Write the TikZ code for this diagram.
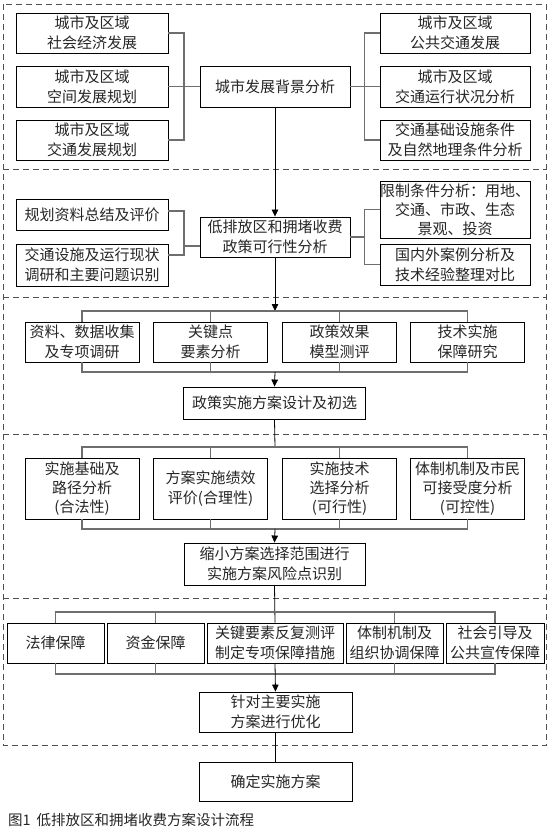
\documentclass[tikz,border=0pt]{standalone}
\usepackage{fontspec}
\setmainfont{Noto Sans CJK SC}
\usetikzlibrary{arrows.meta}
\begin{document}
\begin{tikzpicture}[x=1pt,y=-1pt,
  box/.style={draw=black, line width=0.9pt, inner sep=0pt, align=center, font=\fontsize{15}{20}\selectfont, text=black!85},
  box3/.style={box, font=\fontsize{15}{19}\selectfont},
  conn/.style={draw={rgb,255:red,110;green,110;blue,110}, line width=1.3pt},
  flow/.style={draw=black, line width=0.8pt},
  arr/.style={flow, -{Triangle[length=7pt,width=6.5pt]}},
  sect/.style={draw={rgb,255:red,80;green,80;blue,80}, line width=0.8pt, dash pattern=on 6pt off 4pt},
]
\fill[white] (0,0) rectangle (554,835);
\useasboundingbox (0,0) rectangle (554,835);

% section frames
\draw[sect] (3,4) rectangle (546.5,745);
\foreach \yy in {169,297,434,598} \draw[sect] (3,\yy) -- (546.5,\yy);

% ---------- section 1
\node[box, minimum width=152pt, minimum height=40pt] (L1) at (92,33) {城市及区域\\社会经济发展};
\node[box, minimum width=152pt, minimum height=41pt] (L2) at (92,86.5) {城市及区域\\空间发展规划};
\node[box, minimum width=152pt, minimum height=40pt] (L3) at (92,140) {城市及区域\\交通发展规划};
\node[box, minimum width=150pt, minimum height=41pt] (C1) at (275,86.5) {城市发展背景分析};
\node[box, minimum width=150pt, minimum height=40pt] (R1) at (455,33) {城市及区域\\公共交通发展};
\node[box, minimum width=150pt, minimum height=41pt] (R2) at (455,86.5) {城市及区域\\交通运行状况分析};
\node[box, minimum width=150pt, minimum height=40pt] (R3) at (455,140) {交通基础设施条件\\及自然地理条件分析};

\draw[conn] (L1.east) -- ++(15.5,0) |- (L3.east);
\draw[conn] (L2.east) -- (C1.west);
\draw[conn] (R1.west) -- ++(-15,0) |- (R3.west);
\draw[conn] (C1.east) -- (R2.west);

% ---------- section 2
\node[box, minimum width=152pt, minimum height=31pt] (A) at (92,214.5) {规划资料总结及评价};
\node[box, minimum width=152pt, minimum height=42pt] (B) at (92,265) {交通设施及运行现状\\调研和主要问题识别};
\node[box, minimum width=150pt, minimum height=40pt] (C2) at (275,237) {低排放区和拥堵收费\\政策可行性分析};
\node[box3, minimum width=150pt, minimum height=57pt] (Rc) at (455,209.5) {限制条件分析：用地、\\交通、市政、生态\\景观、投资};
\node[box, minimum width=150pt, minimum height=41pt] (Rd) at (455,264.5) {国内外案例分析及\\技术经验整理对比};

\draw[arr] (C1.south) -- (C2.north);
\draw[conn] ([yshift=3.5pt]A.east) -- ++(15.5,0) |- ([yshift=10pt]B.east);
\draw[conn] ([yshift=-9pt]C2.west) -- ++(-16.5,0);
\draw[conn] (Rc.west) -- ++(-15,0) |- (Rd.west);
\draw[conn] (C2.east) -- ++(15,0);

% ---------- section 3
\node[box, minimum width=114pt, minimum height=40pt] (P1) at (82,342) {资料、数据收集\\及专项调研};
\node[box, minimum width=114pt, minimum height=40pt] (P2) at (210.5,342) {关键点\\要素分析};
\node[box, minimum width=114pt, minimum height=40pt] (P3) at (339.5,342) {政策效果\\模型测评};
\node[box, minimum width=114pt, minimum height=40pt] (P4) at (467.5,342) {技术实施\\保障研究};
\node[box, minimum width=182pt, minimum height=32pt] (D) at (274.5,403) {政策实施方案设计及初选};

\coordinate (b3t) at (275,311);
\coordinate (b3b) at (275,372);
\draw[arr] (C2.south) -- (b3t);
\draw[conn] (P1.north) |- (b3t) -| (P4.north);
\draw[conn] (P2.north) -- (P2.north |- b3t);
\draw[conn] (P3.north) -- (P3.north |- b3t);
\draw[conn] (P1.south) |- (b3b) -| (P4.south);
\draw[conn] (P2.south) -- (P2.south |- b3b);
\draw[conn] (P3.south) -- (P3.south |- b3b);
\draw[arr] (b3b) -- (D.north);

% ---------- section 4
\node[box3, minimum width=114pt, minimum height=61pt] (Q1) at (82,488.5) {实施基础及\\路径分析\\(合法性)};
\node[box, minimum width=114pt, minimum height=61pt] (Q2) at (210.5,488.5) {方案实施绩效\\评价(合理性)};
\node[box3, minimum width=114pt, minimum height=61pt] (Q3) at (339.5,488.5) {实施技术\\选择分析\\(可行性)};
\node[box3, minimum width=114pt, minimum height=61pt] (Q4) at (467.5,488.5) {体制机制及市民\\可接受度分析\\(可控性)};
\node[box, minimum width=181pt, minimum height=42pt] (E) at (274.5,564) {缩小方案选择范围进行\\实施方案风险点识别};

\coordinate (b4t) at (275,447);
\coordinate (b4b) at (275,529);
\draw[flow] (D.south) -- (b4t);
\draw[conn] (Q1.north) |- (b4t) -| (Q4.north);
\draw[conn] (Q2.north) -- (Q2.north |- b4t);
\draw[conn] (Q3.north) -- (Q3.north |- b4t);
\draw[conn] (Q1.south) |- (b4b) -| (Q4.south);
\draw[conn] (Q2.south) -- (Q2.south |- b4b);
\draw[conn] (Q3.south) -- (Q3.south |- b4b);
\draw[arr] (b4b) -- (E.north);

% ---------- section 5
\node[box, minimum width=97pt, minimum height=40pt] (F1) at (55.5,643) {法律保障};
\node[box, minimum width=97pt, minimum height=40pt] (F2) at (155.5,643) {资金保障};
\node[box, minimum width=136pt, minimum height=40pt] (F3) at (275,643) {关键要素反复测评\\制定专项保障措施};
\node[box, minimum width=97pt, minimum height=40pt] (F4) at (394.5,643) {体制机制及\\组织协调保障};
\node[box, minimum width=98pt, minimum height=40pt] (F5) at (495,643) {社会引导及\\公共宣传保障};
\node[box, minimum width=153pt, minimum height=40pt] (G) at (275.5,712) {针对主要实施\\方案进行优化};
\node[box, minimum width=153pt, minimum height=39pt] (H) at (275.5,781.5) {确定实施方案};

\coordinate (b5t) at (275,612);
\coordinate (b5b) at (275,674);
\draw[flow] (E.south) -- (F3.north);
\draw[conn] (F1.north) |- (b5t) -| (F5.north);
\draw[conn] (F2.north) -- (F2.north |- b5t);
\draw[conn] (F4.north) -- (F4.north |- b5t);
\draw[conn] (F1.south) |- (b5b) -| (F5.south);
\draw[conn] (F2.south) -- (F2.south |- b5b);
\draw[conn] (F4.south) -- (F4.south |- b5b);
\draw[arr] (F3.south) -- (G.north);
\draw[flow] (G.south) -- (H.north);

% caption
\node[anchor=west, inner sep=0pt, font=\fontsize{14.5}{17}\selectfont, text=black!85] (cap) at (8,820) {图1\hspace{6pt}低排放区和拥堵收费方案设计流程};
\end{tikzpicture}
\end{document}
